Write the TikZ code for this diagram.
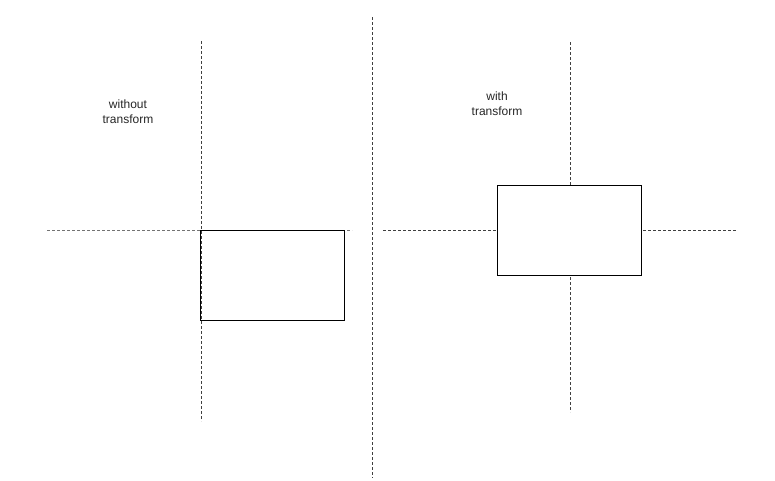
\documentclass[tikz,border=0pt]{standalone}
\usepackage{fontspec}
\setmainfont{Liberation Sans}
\begin{document}
\begin{tikzpicture}[x=1pt,y=-1pt,
  axis/.style={dash pattern=on 3pt off 2pt, line width=0.8pt, draw=black!75},
  boxshape/.style={draw=black, line width=1pt, fill=white},
  lbl/.style={font=\fontsize{12}{15}\selectfont, align=center, text=black!85}]
\useasboundingbox (0,0) rectangle (775,480);
% divider
\coordinate (dT) at (372,17); \coordinate (dB) at (372,478);
\draw[axis] (dT) -- (dB);
% left panel
\coordinate (lvT) at (201,41); \coordinate (lvB) at (201,421);
\coordinate (lhL) at (47,230); \coordinate (lhR) at (352,230);
\draw[axis] (lvT) -- (lvB);
\draw[axis,draw=black!55] (lhL) -- (lhR);
\node[boxshape, fill=none, minimum width=144pt, minimum height=90pt, anchor=north west, inner sep=0pt] (lbox) at (200,230) {};
\node[lbl] (ltext) at (128,112) {without\\transform};
% right panel
\coordinate (rvT) at (570,42); \coordinate (rvB) at (570,412);
\coordinate (rhL) at (383,230); \coordinate (rhR) at (737,230);
\draw[axis] (rvT) -- (rvB);
\draw[axis] (rhL) -- (rhR);
\node[boxshape, minimum width=144pt, minimum height=90pt, inner sep=0pt] (rbox) at (569,230) {};
\node[lbl] (rtext) at (497,104) {with\\transform};
\end{tikzpicture}
\end{document}
